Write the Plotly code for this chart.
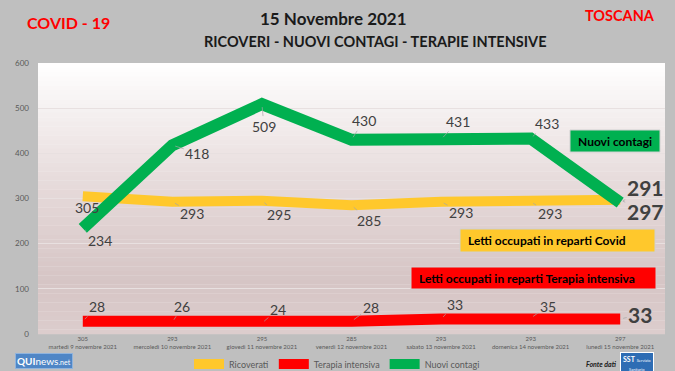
import plotly.graph_objects as go

days = ["martedì 9 novembre 2021", "mercoledì 10 novembre 2021", "giovedì 11 novembre 2021",
        "venerdì 12 novembre 2021", "sabato 13 novembre 2021", "domenica 14 novembre 2021",
        "lunedì 15 novembre 2021"]
ricoverati = [305, 293, 295, 285, 293, 293, 297]
terapia = [28, 26, 24, 28, 33, 35, 33]
contagi = [234, 418, 509, 430, 431, 433, 291]

cats = [f"{r}<br>{d}" for r, d in zip(ricoverati, days)]

FONT = "Lato"
YEL = "#FFC82C"
RED = "#FF0000"
GRN = "#00B050"
TXT = "#404040"

fig = go.Figure()
fig.add_trace(go.Scatter(x=cats, y=ricoverati, mode="lines", name="Ricoverati",
                         line=dict(color=YEL, width=10)))
fig.add_trace(go.Scatter(x=cats, y=terapia, mode="lines", name="Terapia intensiva",
                         line=dict(color=RED, width=11)))
fig.add_trace(go.Scatter(x=cats, y=contagi, mode="lines", name="Nuovi contagi",
                         line=dict(color=GRN, width=12)))

# gradient plot background (styling bands)
def lerp(c1, c2, t):
    a = [int(c1[i:i+2], 16) for i in (1, 3, 5)]
    b = [int(c2[i:i+2], 16) for i in (1, 3, 5)]
    return "rgb(%d,%d,%d)" % tuple(round(a[k] + (b[k]-a[k])*t) for k in range(3))

stops = [(0.0, "#FFFFFF"), (0.45, "#E6DADA"), (0.8, "#D6C5C5"), (1.0, "#DCCDCD")]
N = 60
shapes = []
for i in range(N):
    t = (i + 0.5) / N  # from top
    for j in range(len(stops) - 1):
        if stops[j][0] <= t <= stops[j+1][0]:
            tt = (t - stops[j][0]) / (stops[j+1][0] - stops[j][0])
            col = lerp(stops[j][1], stops[j+1][1], tt)
            break
    shapes.append(dict(type="rect", xref="paper", yref="paper", layer="below",
                       x0=0, x1=1, y0=1 - (i+1)/N - 0.001, y1=1 - i/N,
                       fillcolor=col, line=dict(width=0)))

# data labels offsets (pixels)
lab_c = [(17, 12), (25, 8), (2, 22), (12, -19), (17, -18), (16, -15), (25, -15)]
lab_r = [(4, 11), (20, 12), (17, 14), (17, 15), (20, 11), (19, 12), (25, 12)]
lab_t = [(14, -15), (10, -16), (16, -14), (19, -14), (14, -15), (17, -12), (20, -5)]

ann = []
for vals, offs in ((contagi, lab_c), (ricoverati, lab_r), (terapia, lab_t)):
    for i, (v, (ax, ay)) in enumerate(zip(vals, offs)):
        last = i == len(vals) - 1
        ann.append(dict(x=cats[i], y=v, text=(f"<b>{v}</b>" if last else str(v)),
                        showarrow=True, ax=ax, ay=ay, arrowhead=0, arrowwidth=0.7,
                        arrowcolor="#A6A6A6", standoff=3, startstandoff=0,
                        font=dict(family=FONT, size=21 if last else 14, color=TXT)))

L, T, W, H = 38, 63, 627, 271
def px(x):
    return (x - L) / W
def py(y):
    return (T + H - y) / H

def note(x, y, text, **kw):
    d = dict(xref="paper", yref="paper", x=px(x), y=py(y), text=text, showarrow=False,
             xanchor="center", yanchor="middle")
    d.update(kw)
    return d

# series boxes
boxes = [("Nuovi contagi", GRN, 570, 660, 130, 152),
         ("Letti occupati in reparti Covid", YEL, 460, 655, 229, 252),
         ("Letti occupati in reparti Terapia intensiva", RED, 411, 656, 267, 289)]
for txt, col, x0, x1, y0, y1 in boxes:
    shapes.append(dict(type="rect", xref="paper", yref="paper", x0=px(x0), x1=px(x1),
                       y0=py(y1), y1=py(y0), fillcolor=col, line=dict(color="#D0D0D0", width=1)))
    ann.append(note(x0 + 6, (y0 + y1) / 2, f"<b>{txt}</b>", xanchor="left",
                    font=dict(family=FONT, size=12, color="#000000")))

# titles and logos
ann += [
    note(333, 18, "<b>15 Novembre 2021</b>", font=dict(family=FONT, size=17, color="#1A1A1A")),
    note(375, 42, "<b>RICOVERI - NUOVI CONTAGI - TERAPIE INTENSIVE</b>",
         font=dict(family=FONT, size=14.5, color="#1A1A1A")),
    note(68, 22, "<b>COVID - 19</b>", font=dict(family=FONT, size=16, color="#FF0000")),
    note(620, 16, "<b>TOSCANA</b>", font=dict(family=FONT, size=14.5, color="#FF0000")),
    note(44, 361, "<b>QUI</b>news<span style='font-size:7px'>.net</span>",
         bgcolor="#4F86C6", borderpad=1, bordercolor="#8FB3DD",
         font=dict(family=FONT, size=10, color="#FFFFFF")),
    note(601, 364, "<b><i>Fonte dati</i></b>", font=dict(family=FONT, size=7, color="#202020")),
    note(637, 363, "<b>SST</b> <span style='font-size:4px'>Servizio<br>Sanitario</span>",
         bgcolor="#2E6DB4", borderpad=2, bordercolor="#FFFFFF",
         font=dict(family=FONT, size=7, color="#FFFFFF")),
]

fig.update_layout(
    width=675, height=371,
    margin=dict(l=L, r=675 - L - W, t=T, b=371 - T - H, autoexpand=False),
    paper_bgcolor="#BFBFBF", plot_bgcolor="#FFFFFF",
    font=dict(family=FONT, color="#595959"),
    shapes=shapes, annotations=ann,
    showlegend=True,
    legend=dict(orientation="h", x=px(337), xanchor="center", y=py(364), yanchor="middle",
                font=dict(family=FONT, size=9, color="#595959"), bgcolor="rgba(0,0,0,0)",
                itemwidth=30),
    xaxis=dict(range=[-0.5, len(cats) - 0.5], showgrid=False, showline=False, ticks="",
               zeroline=False, automargin=False,
               tickfont=dict(family=FONT, size=6, color="#595959")),
    yaxis=dict(range=[0, 600], dtick=100, showgrid=True, gridcolor="#E8E0E0", gridwidth=1,
               zeroline=False, showline=False, ticks="", ticklabelstandoff=8, automargin=False,
               tickfont=dict(family=FONT, size=8, color="#595959")),
)

fig.write_html("out.html", config={"displayModeBar": False},
               post_script="document.body.style.margin='0';document.body.style.overflow='hidden';")
